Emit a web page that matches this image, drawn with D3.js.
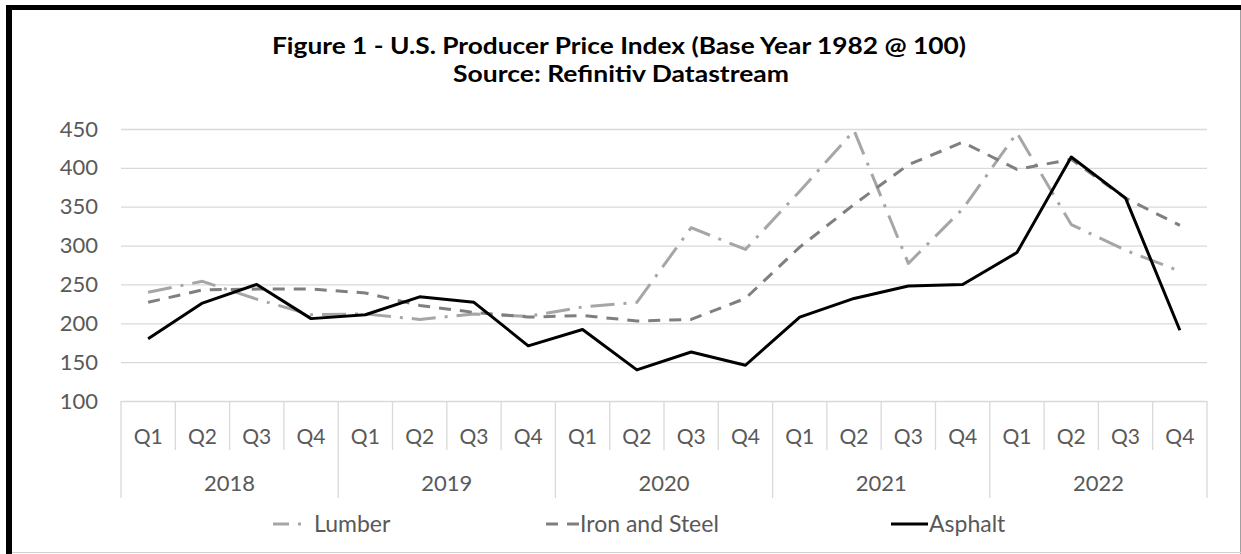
<!DOCTYPE html>
<html>
<head>
<meta charset="utf-8">
<script src="https://cdn.jsdelivr.net/npm/d3@7"></script>
<style>
  body { margin: 0; background: #fff; }
  svg text { font-family: Lato, "Open Sans", sans-serif; }
</style>
</head>
<body>
<div id="chart"></div>
<script>
const quarters = ['Q1','Q2','Q3','Q4','Q1','Q2','Q3','Q4','Q1','Q2','Q3','Q4','Q1','Q2','Q3','Q4','Q1','Q2','Q3','Q4'];
const years = ['2018','2019','2020','2021','2022'];
const yTicks = [100, 150, 200, 250, 300, 350, 400, 450];

// values (index, 1982 = 100)
const lumber  = [240, 254, 231, 211, 212, 205, 212, 209, 221, 227, 323, 295, 370, 448, 277, 347, 445, 327, 294, 267];
const iron    = [227, 243, 244, 244, 239, 223, 214, 208, 210, 203, 205, 232, 298, 353, 404, 433, 398, 411, 361, 326];
const asphalt = [180, 226, 250, 206, 211, 234, 227, 171, 192, 140, 163, 146, 208, 232, 248, 250, 291, 414, 361, 191];

const width = 1241, height = 554;
const grey = '#595959', gridCol = '#d9d9d9';

const svg = d3.select('#chart').append('svg')
  .attr('width', width)
  .attr('height', height);

svg.append('rect').attr('width', width).attr('height', height).attr('fill', '#fff');

const x = d3.scaleBand().domain(d3.range(quarters.length)).range([121, 1207]);
const y = d3.scaleLinear().domain([100, 450]).range([401, 129]);

// title
const title = svg.append('g').attr('font-weight', 'bold').attr('fill', '#000').attr('text-anchor', 'middle');
title.append('text').attr('x', 619).attr('y', 54).attr('font-size', 23)
  .attr('textLength', 694).attr('lengthAdjust', 'spacingAndGlyphs')
  .text('Figure 1 - U.S. Producer Price Index (Base Year 1982 @ 100)');
title.append('text').attr('x', 621).attr('y', 82).attr('font-size', 23)
  .attr('textLength', 336).attr('lengthAdjust', 'spacingAndGlyphs')
  .text('Source: Refinitiv Datastream');

// gridlines + y labels
const yAxis = d3.axisLeft(y).tickValues(yTicks).tickSize(-(1207 - 121));
const gy = svg.append('g').attr('transform', 'translate(121,0)').call(yAxis);
gy.select('.domain').remove();
gy.selectAll('.tick line').attr('stroke', gridCol).attr('stroke-width', 1.3);
gy.selectAll('.tick text').attr('fill', grey).attr('font-size', 22).attr('x', -23);

// category axis dividers
const edges = d3.range(quarters.length + 1);
svg.append('g').selectAll('line').data(edges).join('line')
  .attr('x1', i => i < quarters.length ? x(i) : x.range()[1])
  .attr('x2', i => i < quarters.length ? x(i) : x.range()[1])
  .attr('y1', 401)
  .attr('y2', i => i % 4 === 0 ? 498 : 450)
  .attr('stroke', gridCol).attr('stroke-width', 1.3);

svg.append('g').selectAll('text').data(quarters).join('text')
  .attr('x', (d, i) => x(i) + x.bandwidth() / 2)
  .attr('y', 444)
  .attr('text-anchor', 'middle')
  .attr('fill', grey).attr('font-size', 21)
  .text(d => d);

svg.append('g').selectAll('text').data(years).join('text')
  .attr('x', (d, i) => x(i * 4) + x.bandwidth() * 2)
  .attr('y', 491)
  .attr('text-anchor', 'middle')
  .attr('fill', grey).attr('font-size', 22)
  .text(d => d);

// series
const series = [
  { name: 'Lumber', values: lumber, color: '#a6a6a6', dash: '24,9,3,9', lx: 273, lx2: 305, off: 8, tx: 314 },
  { name: 'Iron and Steel', values: iron, color: '#7f7f7f', dash: '12,9', lx: 546, lx2: 579, off: 0, tx: 580 },
  { name: 'Asphalt', values: asphalt, color: '#000', dash: null, lx: 891, lx2: 928, off: 0, tx: 929 }
];

const line = d3.line()
  .x((d, i) => x(i) + x.bandwidth() / 2)
  .y(d => y(d));

svg.append('g').selectAll('path').data(series).join('path')
  .attr('d', s => line(s.values))
  .attr('fill', 'none')
  .attr('stroke', s => s.color)
  .attr('stroke-width', 3)
  .attr('stroke-linejoin', 'round')
  .attr('stroke-dasharray', s => s.dash);

// legend
const leg = svg.append('g').selectAll('g').data(series).join('g');
leg.append('line')
  .attr('x1', s => s.lx).attr('x2', s => s.lx2)
  .attr('y1', 524).attr('y2', 524)
  .attr('stroke', s => s.color).attr('stroke-width', 3)
  .attr('stroke-dasharray', s => s.dash)
  .attr('stroke-dashoffset', s => s.off);
leg.append('text')
  .attr('x', s => s.tx).attr('y', 532)
  .attr('fill', grey).attr('font-size', 23)
  .text(s => s.name);

// frame
svg.append('line').attr('x1', 9).attr('x2', 9).attr('y1', 5).attr('y2', height).attr('stroke', '#000').attr('stroke-width', 6);
svg.append('line').attr('x1', 6).attr('x2', width).attr('y1', 7.5).attr('y2', 7.5).attr('stroke', '#000').attr('stroke-width', 5);
svg.append('line').attr('x1', 1240.5).attr('x2', 1240.5).attr('y1', 10).attr('y2', height).attr('stroke', '#a0a0a0').attr('stroke-width', 1);
svg.append('line').attr('x1', 12).attr('x2', width).attr('y1', 552.5).attr('y2', 552.5).attr('stroke', '#d0d0d0').attr('stroke-width', 1);
</script>
</body>
</html>
